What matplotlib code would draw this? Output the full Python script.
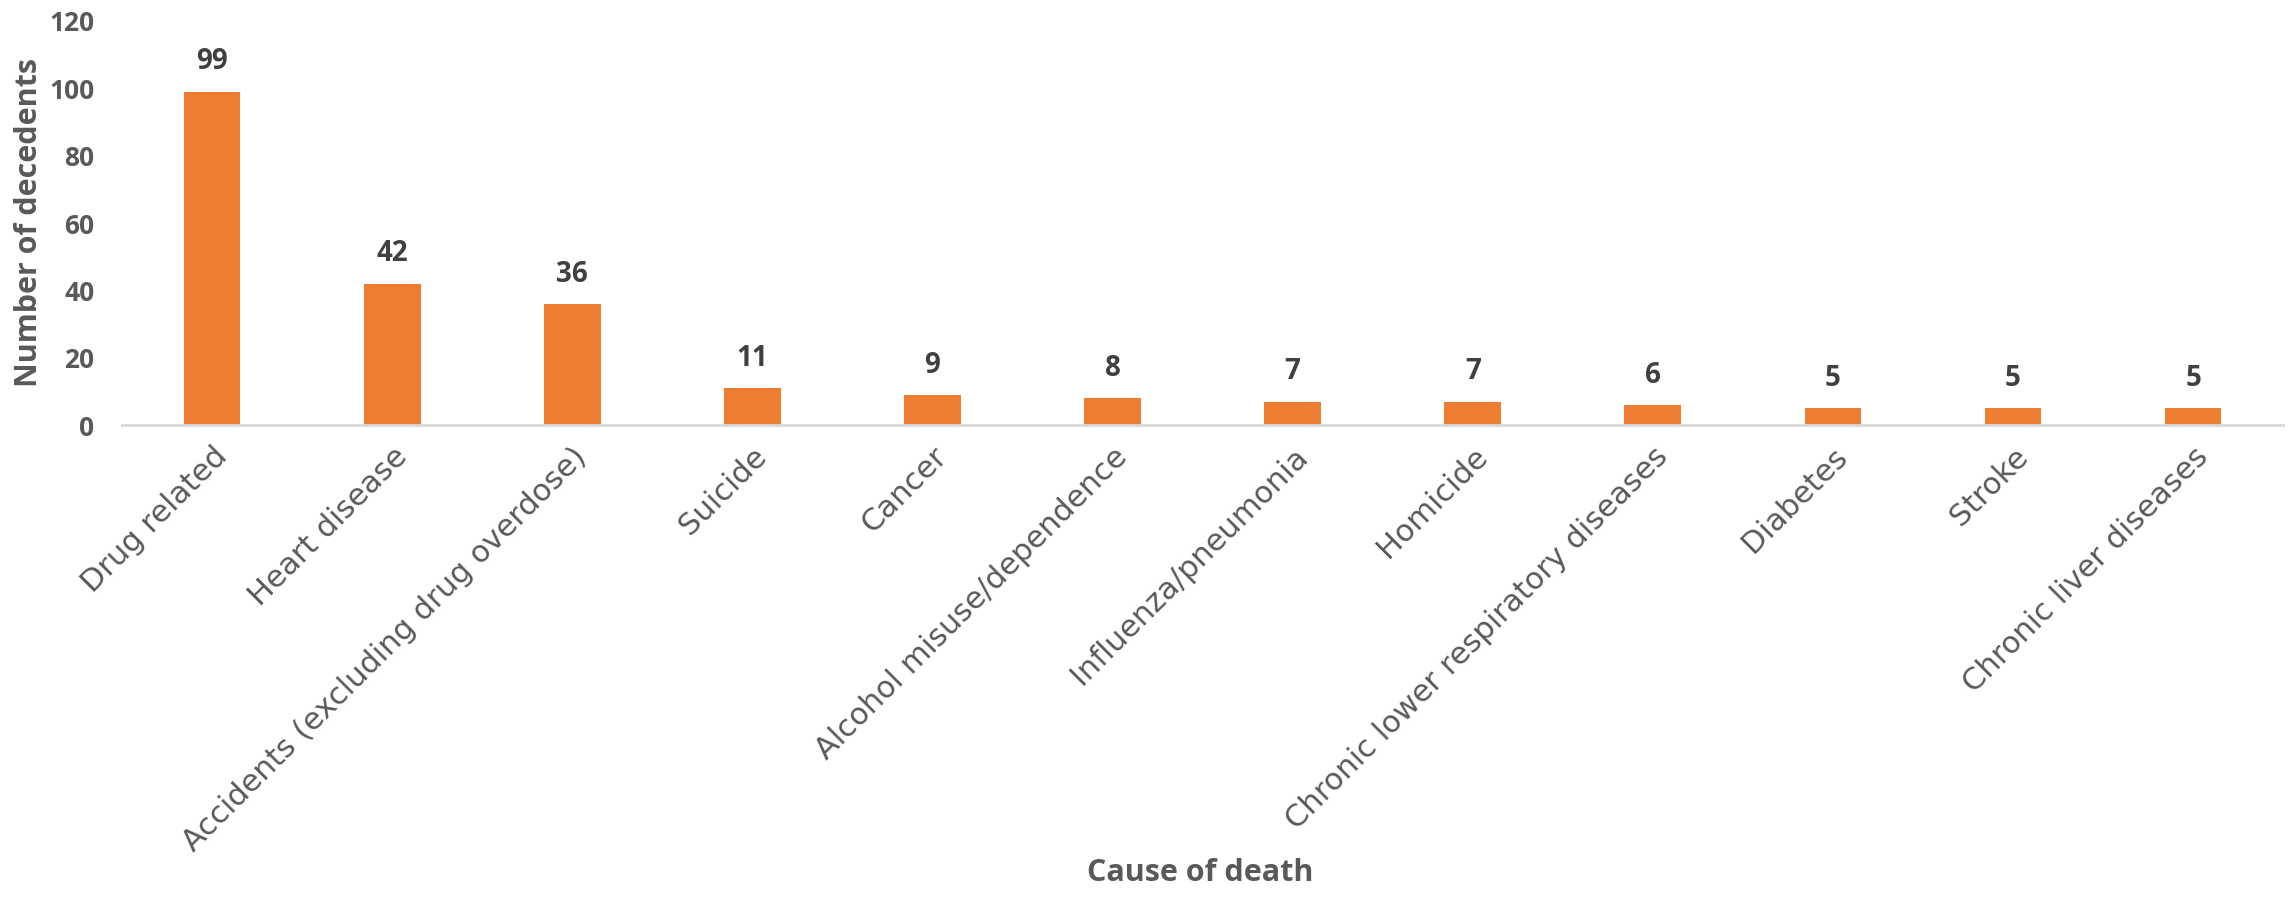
import matplotlib
matplotlib.use("Agg")
import matplotlib.pyplot as plt
import numpy as np

causes = [
    "Drug related", "Heart disease", "Accidents (excluding drug overdose)",
    "Suicide", "Cancer", "Alcohol misuse/dependence", "Influenza/pneumonia",
    "Homicide", "Chronic lower respiratory diseases", "Diabetes", "Stroke",
    "Chronic liver diseases",
]
decedents = [99, 42, 36, 11, 9, 8, 7, 7, 6, 5, 5, 5]
y_ticks = [0, 20, 40, 60, 80, 100, 120]

bar_color = "#ED7D31"
grey = "#595959"

fig = plt.figure(figsize=(22.9, 8.99), dpi=100)
ax = fig.add_axes([0.0533, 0.527, 0.9437, 0.4497])

x = np.arange(len(causes))
bars = ax.bar(x, decedents, width=0.315, color=bar_color, zorder=2)

# value above each bar
for xi, v in zip(x, decedents):
    ax.annotate(str(v), (xi, v), xytext=(0, 11), textcoords="offset points",
                ha="center", va="bottom", fontsize=20, fontweight="bold",
                color="#404040", family="Open Sans")

ax.set_xlim(-0.5, len(causes) - 0.5)
ax.set_ylim(0, 120)
ax.set_yticks(y_ticks)
ax.set_yticklabels([str(t) for t in y_ticks], fontsize=19, fontweight="bold",
                   color=grey, family="Open Sans")
ax.set_xticks(x)
ax.set_xticklabels(causes, rotation=45, ha="right", va="top",
                   rotation_mode="anchor", fontsize=22, color=grey,
                   family="DejaVu Sans")
ax.tick_params(axis="both", length=0)
ax.tick_params(axis="y", pad=20)
ax.tick_params(axis="x", pad=12)

for side in ("top", "right", "left"):
    ax.spines[side].set_visible(False)
ax.spines["bottom"].set_color("#D9D9D9")
ax.spines["bottom"].set_linewidth(2)

fig.text(0.0125, 0.752, "Number of decedents", rotation=90, ha="center",
         va="center", fontsize=22, fontweight="bold", color=grey,
         family="Open Sans")
fig.text(0.524, 0.012, "Cause of death", ha="center", va="bottom",
         fontsize=22, fontweight="bold", color=grey, family="Open Sans")

fig.savefig("out.png", dpi=100)
